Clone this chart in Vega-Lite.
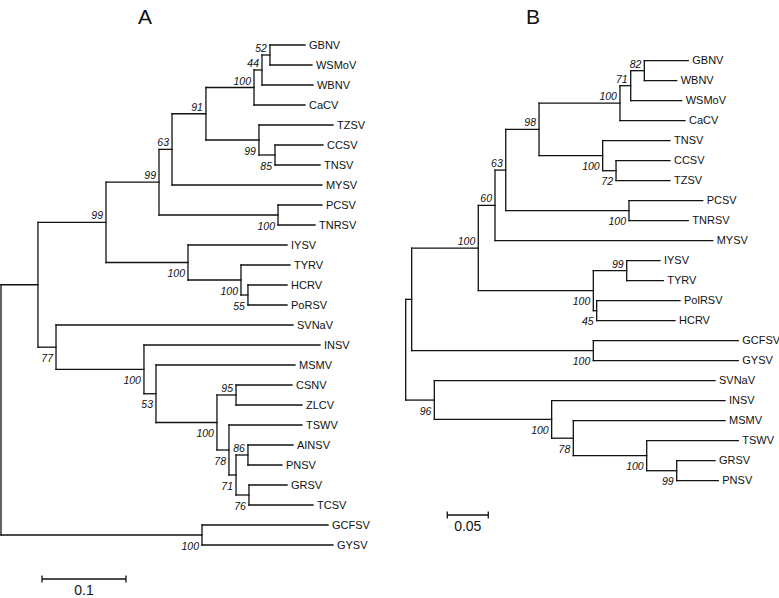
{
  "$schema": "https://vega.github.io/schema/vega-lite/v6.json",
  "autosize": {"type": "pad"},
  "padding": 0,
  "spacing": 0,
  "background": "white",
  "config": {"view": {"stroke": null}},
  "datasets": {
    "A": [
      {"id":"aBig","par":"aRoot","x":0.0440,"p":0,"y":11.988},
      {"id":"aGC","par":"aRoot","x":0.2393,"p":0,"y":24.5,"bs":"100","side":"down"},
      {"id":"a99","par":"aBig","x":0.1250,"p":0.0440,"y":8.867,"bs":"99","side":"up"},
      {"id":"a77","par":"aBig","x":0.0655,"p":0.0440,"y":15.109,"bs":"77","side":"down"},
      {"id":"a99b","par":"a99","x":0.1881,"p":0.1250,"y":6.859,"bs":"99","side":"up"},
      {"id":"aIY","par":"a99","x":0.2226,"p":0.1250,"y":10.875,"bs":"100","side":"down"},
      {"id":"a63","par":"a99b","x":0.2036,"p":0.1881,"y":5.219,"bs":"63","side":"up"},
      {"id":"aPC","par":"a99b","x":0.3298,"p":0.1881,"y":8.5,"bs":"100","side":"down"},
      {"id":"a91","par":"a63","x":0.2440,"p":0.2036,"y":3.4375,"bs":"91","side":"up"},
      {"id":"aCa","par":"a91","x":0.3012,"p":0.2440,"y":2.125,"bs":"100","side":"up"},
      {"id":"aGWW","par":"aCa","x":0.3107,"p":0.3012,"y":1.25,"bs":"44","side":"up"},
      {"id":"aGW","par":"aGWW","x":0.3202,"p":0.3107,"y":0.5,"bs":"52","side":"up"},
      {"id":"aTZ","par":"a91","x":0.3071,"p":0.2440,"y":4.75,"bs":"99","side":"down"},
      {"id":"a85","par":"aTZ","x":0.3262,"p":0.3071,"y":5.5,"bs":"85","side":"down"},
      {"id":"a100c","par":"aIY","x":0.2857,"p":0.2226,"y":11.75,"bs":"100","side":"down"},
      {"id":"a55","par":"a100c","x":0.2940,"p":0.2857,"y":12.5,"bs":"55","side":"down"},
      {"id":"aIN","par":"a77","x":0.1702,"p":0.0655,"y":16.219,"bs":"100","side":"down"},
      {"id":"a53","par":"aIN","x":0.1845,"p":0.1702,"y":17.4375,"bs":"53","side":"down"},
      {"id":"a100b","par":"a53","x":0.2571,"p":0.1845,"y":18.875,"bs":"100","side":"down"},
      {"id":"a95","par":"a100b","x":0.2798,"p":0.2571,"y":17.5,"bs":"95","side":"up"},
      {"id":"a78","par":"a100b","x":0.2714,"p":0.2571,"y":20.25,"bs":"78","side":"down"},
      {"id":"a71","par":"a78","x":0.2798,"p":0.2714,"y":21.5,"bs":"71","side":"down"},
      {"id":"a86","par":"a71","x":0.2940,"p":0.2798,"y":20.5,"bs":"86","side":"up"},
      {"id":"a76","par":"a71","x":0.2952,"p":0.2798,"y":22.5,"bs":"76","side":"down"},
      {"id":"GBNV","par":"aGW","x":0.3619,"p":0.3202,"y":0,"leaf":"GBNV"},
      {"id":"WSMoV","par":"aGW","x":0.3702,"p":0.3202,"y":1,"leaf":"WSMoV"},
      {"id":"WBNV","par":"aGWW","x":0.3714,"p":0.3107,"y":2,"leaf":"WBNV"},
      {"id":"CaCV","par":"aCa","x":0.3619,"p":0.3012,"y":3,"leaf":"CaCV"},
      {"id":"TZSV","par":"aTZ","x":0.3952,"p":0.3071,"y":4,"leaf":"TZSV"},
      {"id":"CCSV","par":"a85","x":0.3833,"p":0.3262,"y":5,"leaf":"CCSV"},
      {"id":"TNSV","par":"a85","x":0.3798,"p":0.3262,"y":6,"leaf":"TNSV"},
      {"id":"MYSV","par":"a63","x":0.3821,"p":0.2036,"y":7,"leaf":"MYSV"},
      {"id":"PCSV","par":"aPC","x":0.3821,"p":0.3298,"y":8,"leaf":"PCSV"},
      {"id":"TNRSV","par":"aPC","x":0.3738,"p":0.3298,"y":9,"leaf":"TNRSV"},
      {"id":"IYSV","par":"aIY","x":0.3405,"p":0.2226,"y":10,"leaf":"IYSV"},
      {"id":"TYRV","par":"a100c","x":0.3440,"p":0.2857,"y":11,"leaf":"TYRV"},
      {"id":"HCRV","par":"a55","x":0.3405,"p":0.2940,"y":12,"leaf":"HCRV"},
      {"id":"PoRSV","par":"a55","x":0.3405,"p":0.2940,"y":13,"leaf":"PoRSV"},
      {"id":"SVNaV","par":"a77","x":0.3476,"p":0.0655,"y":14,"leaf":"SVNaV"},
      {"id":"INSV","par":"aIN","x":0.3798,"p":0.1702,"y":15,"leaf":"INSV"},
      {"id":"MSMV","par":"a53","x":0.3500,"p":0.1845,"y":16,"leaf":"MSMV"},
      {"id":"CSNV","par":"a95","x":0.3464,"p":0.2798,"y":17,"leaf":"CSNV"},
      {"id":"ZLCV","par":"a95","x":0.3583,"p":0.2798,"y":18,"leaf":"ZLCV"},
      {"id":"TSWV","par":"a78","x":0.3583,"p":0.2714,"y":19,"leaf":"TSWV"},
      {"id":"AINSV","par":"a86","x":0.3476,"p":0.2940,"y":20,"leaf":"AINSV"},
      {"id":"PNSV","par":"a86","x":0.3345,"p":0.2940,"y":21,"leaf":"PNSV"},
      {"id":"GRSV","par":"a76","x":0.3405,"p":0.2952,"y":22,"leaf":"GRSV"},
      {"id":"TCSV","par":"a76","x":0.3714,"p":0.2952,"y":23,"leaf":"TCSV"},
      {"id":"GCFSV","par":"aGC","x":0.3893,"p":0.2393,"y":24,"leaf":"GCFSV"},
      {"id":"GYSV","par":"aGC","x":0.3952,"p":0.2393,"y":25,"leaf":"GYSV"}
    ],
    "B": [
      {"id":"bBig","par":"bRoot","x":0.0073,"p":0,"y":11.934},
      {"id":"b96","par":"bRoot","x":0.0349,"p":0,"y":16.969,"bs":"96","side":"down"},
      {"id":"b100m","par":"bBig","x":0.0885,"p":0.0073,"y":9.367,"bs":"100","side":"up"},
      {"id":"b100g","par":"bBig","x":0.2288,"p":0.0073,"y":14.5,"bs":"100","side":"down"},
      {"id":"b60","par":"b100m","x":0.1089,"p":0.0885,"y":7.234,"bs":"60","side":"up"},
      {"id":"b100i","par":"b100m","x":0.2288,"p":0.0885,"y":11.5,"bs":"100","side":"down"},
      {"id":"b63","par":"b60","x":0.1220,"p":0.1089,"y":5.469,"bs":"63","side":"up"},
      {"id":"b98","par":"b63","x":0.1626,"p":0.1220,"y":3.4375,"bs":"98","side":"up"},
      {"id":"b100p","par":"b63","x":0.2723,"p":0.1220,"y":7.5,"bs":"100","side":"down"},
      {"id":"b100","par":"b98","x":0.2613,"p":0.1626,"y":2.125,"bs":"100","side":"up"},
      {"id":"b71","par":"b100","x":0.2744,"p":0.2613,"y":1.25,"bs":"71","side":"up"},
      {"id":"b82","par":"b71","x":0.2910,"p":0.2744,"y":0.5,"bs":"82","side":"up"},
      {"id":"b100b","par":"b98","x":0.2402,"p":0.1626,"y":4.75,"bs":"100","side":"down"},
      {"id":"b72","par":"b100b","x":0.2565,"p":0.2402,"y":5.5,"bs":"72","side":"down"},
      {"id":"b99","par":"b100i","x":0.2695,"p":0.2288,"y":10.5,"bs":"99","side":"up"},
      {"id":"b45","par":"b100i","x":0.2329,"p":0.2288,"y":12.5,"bs":"45","side":"down"},
      {"id":"b100n","par":"b96","x":0.1780,"p":0.0349,"y":17.9375,"bs":"100","side":"down"},
      {"id":"b78","par":"b100n","x":0.2044,"p":0.1780,"y":18.875,"bs":"78","side":"down"},
      {"id":"b100t","par":"b78","x":0.2939,"p":0.2044,"y":19.75,"bs":"100","side":"down"},
      {"id":"b99g","par":"b100t","x":0.3305,"p":0.2939,"y":20.5,"bs":"99","side":"down"},
      {"id":"GBNV","par":"b82","x":0.3446,"p":0.2910,"y":0,"leaf":"GBNV"},
      {"id":"WBNV","par":"b82","x":0.3305,"p":0.2910,"y":1,"leaf":"WBNV"},
      {"id":"WSMoV","par":"b71","x":0.3366,"p":0.2744,"y":2,"leaf":"WSMoV"},
      {"id":"CaCV","par":"b100","x":0.3406,"p":0.2613,"y":3,"leaf":"CaCV"},
      {"id":"TNSV","par":"b100b","x":0.3223,"p":0.2402,"y":4,"leaf":"TNSV"},
      {"id":"CCSV","par":"b72","x":0.3223,"p":0.2565,"y":5,"leaf":"CCSV"},
      {"id":"TZSV","par":"b72","x":0.3223,"p":0.2565,"y":6,"leaf":"TZSV"},
      {"id":"PCSV","par":"b100p","x":0.3622,"p":0.2723,"y":7,"leaf":"PCSV"},
      {"id":"TNRSV","par":"b100p","x":0.3446,"p":0.2723,"y":8,"leaf":"TNRSV"},
      {"id":"MYSV","par":"b60","x":0.3744,"p":0.1089,"y":9,"leaf":"MYSV"},
      {"id":"IYSV","par":"b99","x":0.3101,"p":0.2695,"y":10,"leaf":"IYSV"},
      {"id":"TYRV","par":"b99","x":0.3141,"p":0.2695,"y":11,"leaf":"TYRV"},
      {"id":"PolRSV","par":"b45","x":0.3345,"p":0.2329,"y":12,"leaf":"PolRSV"},
      {"id":"HCRV","par":"b45","x":0.3284,"p":0.2329,"y":13,"leaf":"HCRV"},
      {"id":"GCFSV","par":"b100g","x":0.4056,"p":0.2288,"y":14,"leaf":"GCFSV"},
      {"id":"GYSV","par":"b100g","x":0.4056,"p":0.2288,"y":15,"leaf":"GYSV"},
      {"id":"SVNaV","par":"b96","x":0.3772,"p":0.0349,"y":16,"leaf":"SVNaV"},
      {"id":"INSV","par":"b100n","x":0.3894,"p":0.1780,"y":17,"leaf":"INSV"},
      {"id":"MSMV","par":"b78","x":0.3894,"p":0.2044,"y":18,"leaf":"MSMV"},
      {"id":"TSWV","par":"b100t","x":0.4056,"p":0.2939,"y":19,"leaf":"TSWV"},
      {"id":"GRSV","par":"b99g","x":0.3772,"p":0.3305,"y":20,"leaf":"GRSV"},
      {"id":"PNSV","par":"b99g","x":0.3812,"p":0.3305,"y":21,"leaf":"PNSV"}
    ],
    "sA": [{"x0":0.0488,"x1":0.1488,"y":26.7,"t1":26.52,"t2":26.88,"lab":"0.1","lx":0.0988,"ly":27.3,"title":"A","tx":0.1714,"ty":-1.35}],
    "sB": [{"x0":0.0507,"x1":0.1007,"y":22.715,"t1":22.535,"t2":22.895,"lab":"0.05","lx":0.0757,"ly":23.33,"title":"B","tx":0.1552,"ty":-2.135}]
  },
  "resolve": {"scale": {"x": "independent", "y": "independent"}},
  "hconcat": [
    {
      "width": 390,
      "height": 598,
      "layer": [
        {
          "data": {"name": "A"},
          "mark": {"type": "rule", "color": "#111", "strokeWidth": 1.3, "strokeCap": "square"},
          "encoding": {
            "x": {"field": "p", "type": "quantitative", "axis": null, "scale": {"domain": [-0.00119, 0.4631], "nice": false, "zero": false}},
            "x2": {"field": "x"},
            "y": {"field": "y", "type": "quantitative", "axis": null, "scale": {"domain": [-2.25, 27.65], "reverse": true, "nice": false, "zero": false}}
          }
        },
        {
          "data": {"name": "A"},
          "transform": [{"aggregate": [{"op": "min", "field": "y", "as": "y1"}, {"op": "max", "field": "y", "as": "y2"}], "groupby": ["par", "p"]}],
          "mark": {"type": "rule", "color": "#111", "strokeWidth": 1.3, "strokeCap": "square"},
          "encoding": {
            "x": {"field": "p", "type": "quantitative", "axis": null},
            "y": {"field": "y1", "type": "quantitative", "axis": null},
            "y2": {"field": "y2"}
          }
        },
        {
          "data": {"name": "A"},
          "transform": [{"filter": "isValid(datum.leaf)"}],
          "mark": {"type": "text", "align": "left", "baseline": "middle", "dx": 4, "dy": 0.5, "font": "Liberation Sans", "fontSize": 11, "color": "#111"},
          "encoding": {
            "x": {"field": "x", "type": "quantitative", "axis": null},
            "y": {"field": "y", "type": "quantitative", "axis": null},
            "text": {"field": "leaf"}
          }
        },
        {
          "data": {"name": "A"},
          "transform": [{"filter": "datum.side == 'up'"}],
          "mark": {"type": "text", "align": "right", "baseline": "alphabetic", "dx": -3, "dy": -3, "font": "Liberation Sans", "fontStyle": "italic", "fontSize": 10.5, "color": "#111"},
          "encoding": {
            "x": {"field": "x", "type": "quantitative", "axis": null},
            "y": {"field": "y", "type": "quantitative", "axis": null},
            "text": {"field": "bs"}
          }
        },
        {
          "data": {"name": "A"},
          "transform": [{"filter": "datum.side == 'down'"}],
          "mark": {"type": "text", "align": "right", "baseline": "alphabetic", "dx": -3, "dy": 14.5, "font": "Liberation Sans", "fontStyle": "italic", "fontSize": 10.5, "color": "#111"},
          "encoding": {
            "x": {"field": "x", "type": "quantitative", "axis": null},
            "y": {"field": "y", "type": "quantitative", "axis": null},
            "text": {"field": "bs"}
          }
        },
        {
          "data": {"name": "sA"},
          "mark": {"type": "rule", "color": "#111", "strokeWidth": 1.3},
          "encoding": {
            "x": {"field": "x0", "type": "quantitative", "axis": null},
            "x2": {"field": "x1"},
            "y": {"field": "y", "type": "quantitative", "axis": null}
          }
        },
        {
          "data": {"name": "sA"},
          "mark": {"type": "rule", "color": "#111", "strokeWidth": 1.3},
          "encoding": {
            "x": {"field": "x0", "type": "quantitative", "axis": null},
            "y": {"field": "t1", "type": "quantitative", "axis": null},
            "y2": {"field": "t2"}
          }
        },
        {
          "data": {"name": "sA"},
          "mark": {"type": "rule", "color": "#111", "strokeWidth": 1.3},
          "encoding": {
            "x": {"field": "x1", "type": "quantitative", "axis": null},
            "y": {"field": "t1", "type": "quantitative", "axis": null},
            "y2": {"field": "t2"}
          }
        },
        {
          "data": {"name": "sA"},
          "mark": {"type": "text", "align": "center", "baseline": "middle", "font": "Liberation Sans", "fontSize": 14, "color": "#111"},
          "encoding": {
            "x": {"field": "lx", "type": "quantitative", "axis": null},
            "y": {"field": "ly", "type": "quantitative", "axis": null},
            "text": {"field": "lab"}
          }
        },
        {
          "data": {"name": "sA"},
          "mark": {"type": "text", "align": "center", "baseline": "middle", "font": "Liberation Sans", "fontSize": 21, "color": "#111"},
          "encoding": {
            "x": {"field": "tx", "type": "quantitative", "axis": null},
            "y": {"field": "ty", "type": "quantitative", "axis": null},
            "text": {"field": "title"}
          }
        }
      ]
    },
    {
      "width": 389,
      "height": 598,
      "layer": [
        {
          "data": {"name": "B"},
          "mark": {"type": "rule", "color": "#111", "strokeWidth": 1.3, "strokeCap": "square"},
          "encoding": {
            "x": {"field": "p", "type": "quantitative", "axis": null, "scale": {"domain": [-0.019146, 0.455244], "nice": false, "zero": false}},
            "x2": {"field": "x"},
            "y": {"field": "y", "type": "quantitative", "axis": null, "scale": {"domain": [-3.035, 26.865], "reverse": true, "nice": false, "zero": false}}
          }
        },
        {
          "data": {"name": "B"},
          "transform": [{"aggregate": [{"op": "min", "field": "y", "as": "y1"}, {"op": "max", "field": "y", "as": "y2"}], "groupby": ["par", "p"]}],
          "mark": {"type": "rule", "color": "#111", "strokeWidth": 1.3, "strokeCap": "square"},
          "encoding": {
            "x": {"field": "p", "type": "quantitative", "axis": null},
            "y": {"field": "y1", "type": "quantitative", "axis": null},
            "y2": {"field": "y2"}
          }
        },
        {
          "data": {"name": "B"},
          "transform": [{"filter": "isValid(datum.leaf)"}],
          "mark": {"type": "text", "align": "left", "baseline": "middle", "dx": 4, "dy": 0.5, "font": "Liberation Sans", "fontSize": 11, "color": "#111"},
          "encoding": {
            "x": {"field": "x", "type": "quantitative", "axis": null},
            "y": {"field": "y", "type": "quantitative", "axis": null},
            "text": {"field": "leaf"}
          }
        },
        {
          "data": {"name": "B"},
          "transform": [{"filter": "datum.side == 'up'"}],
          "mark": {"type": "text", "align": "right", "baseline": "alphabetic", "dx": -3, "dy": -3, "font": "Liberation Sans", "fontStyle": "italic", "fontSize": 10.5, "color": "#111"},
          "encoding": {
            "x": {"field": "x", "type": "quantitative", "axis": null},
            "y": {"field": "y", "type": "quantitative", "axis": null},
            "text": {"field": "bs"}
          }
        },
        {
          "data": {"name": "B"},
          "transform": [{"filter": "datum.side == 'down'"}],
          "mark": {"type": "text", "align": "right", "baseline": "alphabetic", "dx": -3, "dy": 14.5, "font": "Liberation Sans", "fontStyle": "italic", "fontSize": 10.5, "color": "#111"},
          "encoding": {
            "x": {"field": "x", "type": "quantitative", "axis": null},
            "y": {"field": "y", "type": "quantitative", "axis": null},
            "text": {"field": "bs"}
          }
        },
        {
          "data": {"name": "sB"},
          "mark": {"type": "rule", "color": "#111", "strokeWidth": 1.3},
          "encoding": {
            "x": {"field": "x0", "type": "quantitative", "axis": null},
            "x2": {"field": "x1"},
            "y": {"field": "y", "type": "quantitative", "axis": null}
          }
        },
        {
          "data": {"name": "sB"},
          "mark": {"type": "rule", "color": "#111", "strokeWidth": 1.3},
          "encoding": {
            "x": {"field": "x0", "type": "quantitative", "axis": null},
            "y": {"field": "t1", "type": "quantitative", "axis": null},
            "y2": {"field": "t2"}
          }
        },
        {
          "data": {"name": "sB"},
          "mark": {"type": "rule", "color": "#111", "strokeWidth": 1.3},
          "encoding": {
            "x": {"field": "x1", "type": "quantitative", "axis": null},
            "y": {"field": "t1", "type": "quantitative", "axis": null},
            "y2": {"field": "t2"}
          }
        },
        {
          "data": {"name": "sB"},
          "mark": {"type": "text", "align": "center", "baseline": "middle", "font": "Liberation Sans", "fontSize": 14, "color": "#111"},
          "encoding": {
            "x": {"field": "lx", "type": "quantitative", "axis": null},
            "y": {"field": "ly", "type": "quantitative", "axis": null},
            "text": {"field": "lab"}
          }
        },
        {
          "data": {"name": "sB"},
          "mark": {"type": "text", "align": "center", "baseline": "middle", "font": "Liberation Sans", "fontSize": 21, "color": "#111"},
          "encoding": {
            "x": {"field": "tx", "type": "quantitative", "axis": null},
            "y": {"field": "ty", "type": "quantitative", "axis": null},
            "text": {"field": "title"}
          }
        }
      ]
    }
  ]
}
